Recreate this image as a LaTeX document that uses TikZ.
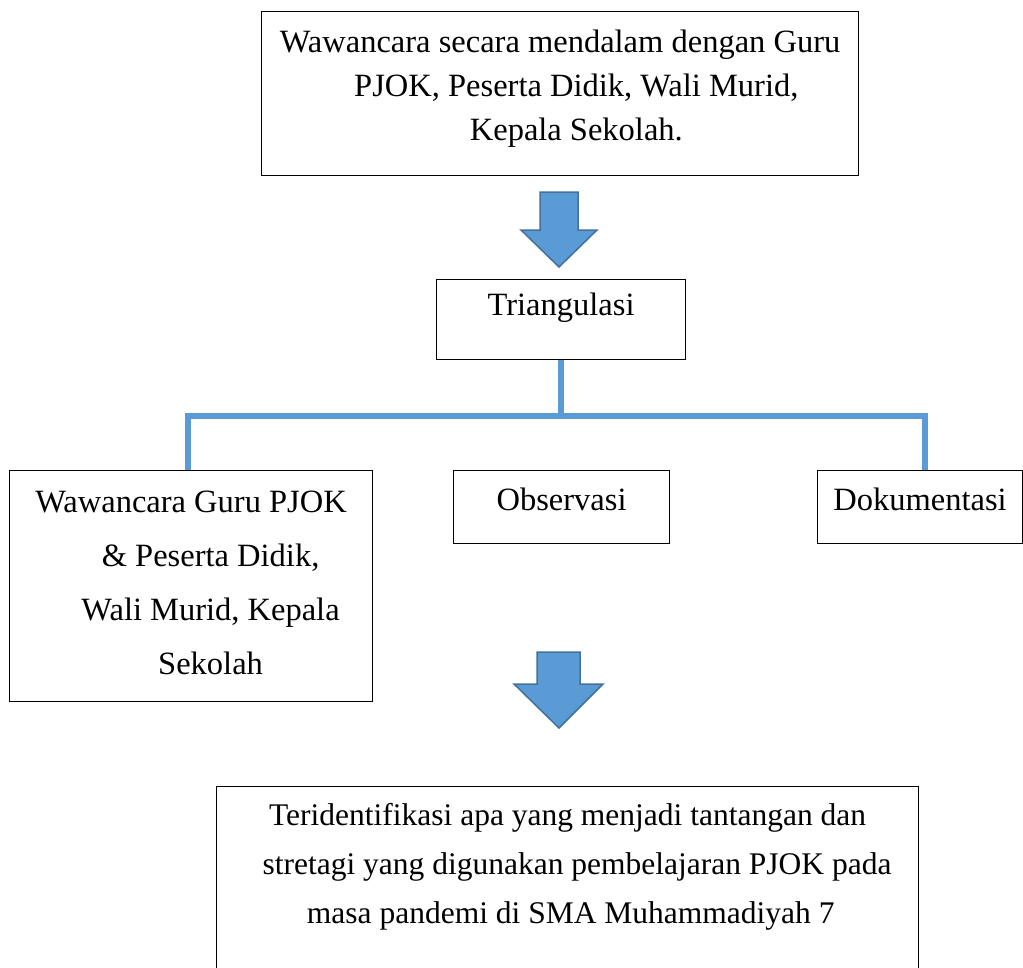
\documentclass[tikz,border=0pt]{standalone}
\usepackage{fontspec}
\setmainfont{Liberation Serif}
\usetikzlibrary{calc}
\tikzset{>=latex}
\definecolor{wordblue}{HTML}{5B9BD5}
\definecolor{wordbluedark}{HTML}{41719C}
\tikzset{
  box/.style={draw, line width=1.2pt, inner sep=0pt, anchor=north west, align=center},
  link/.style={draw=wordblue, line width=5.5pt},
  blockarrow/.style={fill=wordblue, draw=wordbluedark, line width=1.5pt, line join=miter}
}

\begin{document}
\begin{tikzpicture}[x=1pt, y=-1pt, font=\fontsize{32.5}{44}\selectfont]
  \useasboundingbox (0,0) rectangle (1023,967);
  % boxes (text height counts to the baseline of the last line)
  \node[box, minimum width=597, text height=129, text depth=35] (wawancara) at (261,11)
    {Wawancara secara mendalam dengan Guru\\ \hspace*{1em}PJOK, Peserta Didik, Wali Murid,\\ \hspace*{1em}Kepala Sekolah.};
  \node[box, minimum width=249, text height=36, text depth=44] (tri) at (436,279) {Triangulasi};
  \node[box, minimum width=363, text height=204, text depth=27,
    font=\fontsize{32.5}{54}\selectfont] (wgp) at (9,470)
    {Wawancara Guru PJOK\\ \hspace*{1.2em}\& Peserta Didik,\\ \hspace*{1.2em}Wali Murid, Kepala\\ \hspace*{1.2em}Sekolah};
  \node[box, minimum width=216, text height=40, text depth=33] (obs) at (453,470) {Observasi};
  \node[box, minimum width=205, text height=40, text depth=33] (dok) at (817,470) {Dokumentasi};
  \node[box, minimum width=702, text height=137, text depth=77,
    font=\fontsize{31.5}{49}\selectfont] (hasil) at (216,786)
    {Teridentifikasi apa yang menjadi tantangan dan\\ \hspace*{0.6em}stretagi yang digunakan pembelajaran PJOK pada\\ \hspace*{0.2em}masa pandemi di SMA Muhammadiyah 7};
  % block arrows
  \path[blockarrow] (540,192) -- (578,192) -- (578,230) -- (597,230) -- (559,267)
    -- (521,230) -- (540,230) -- cycle;
  \path[blockarrow] (537,652) -- (580,652) -- (580,684) -- (603,684) -- (559,728)
    -- (514,684) -- (537,684) -- cycle;
  % tree lines
  \coordinate (bus) at ($(tri.south)+(0,56)$);
  \draw[link] (tri.south) -- (bus);
  \draw[link] ([xshift=-3]wgp.north) |- (bus) -| ([xshift=5]dok.north);
\end{tikzpicture}
\end{document}
